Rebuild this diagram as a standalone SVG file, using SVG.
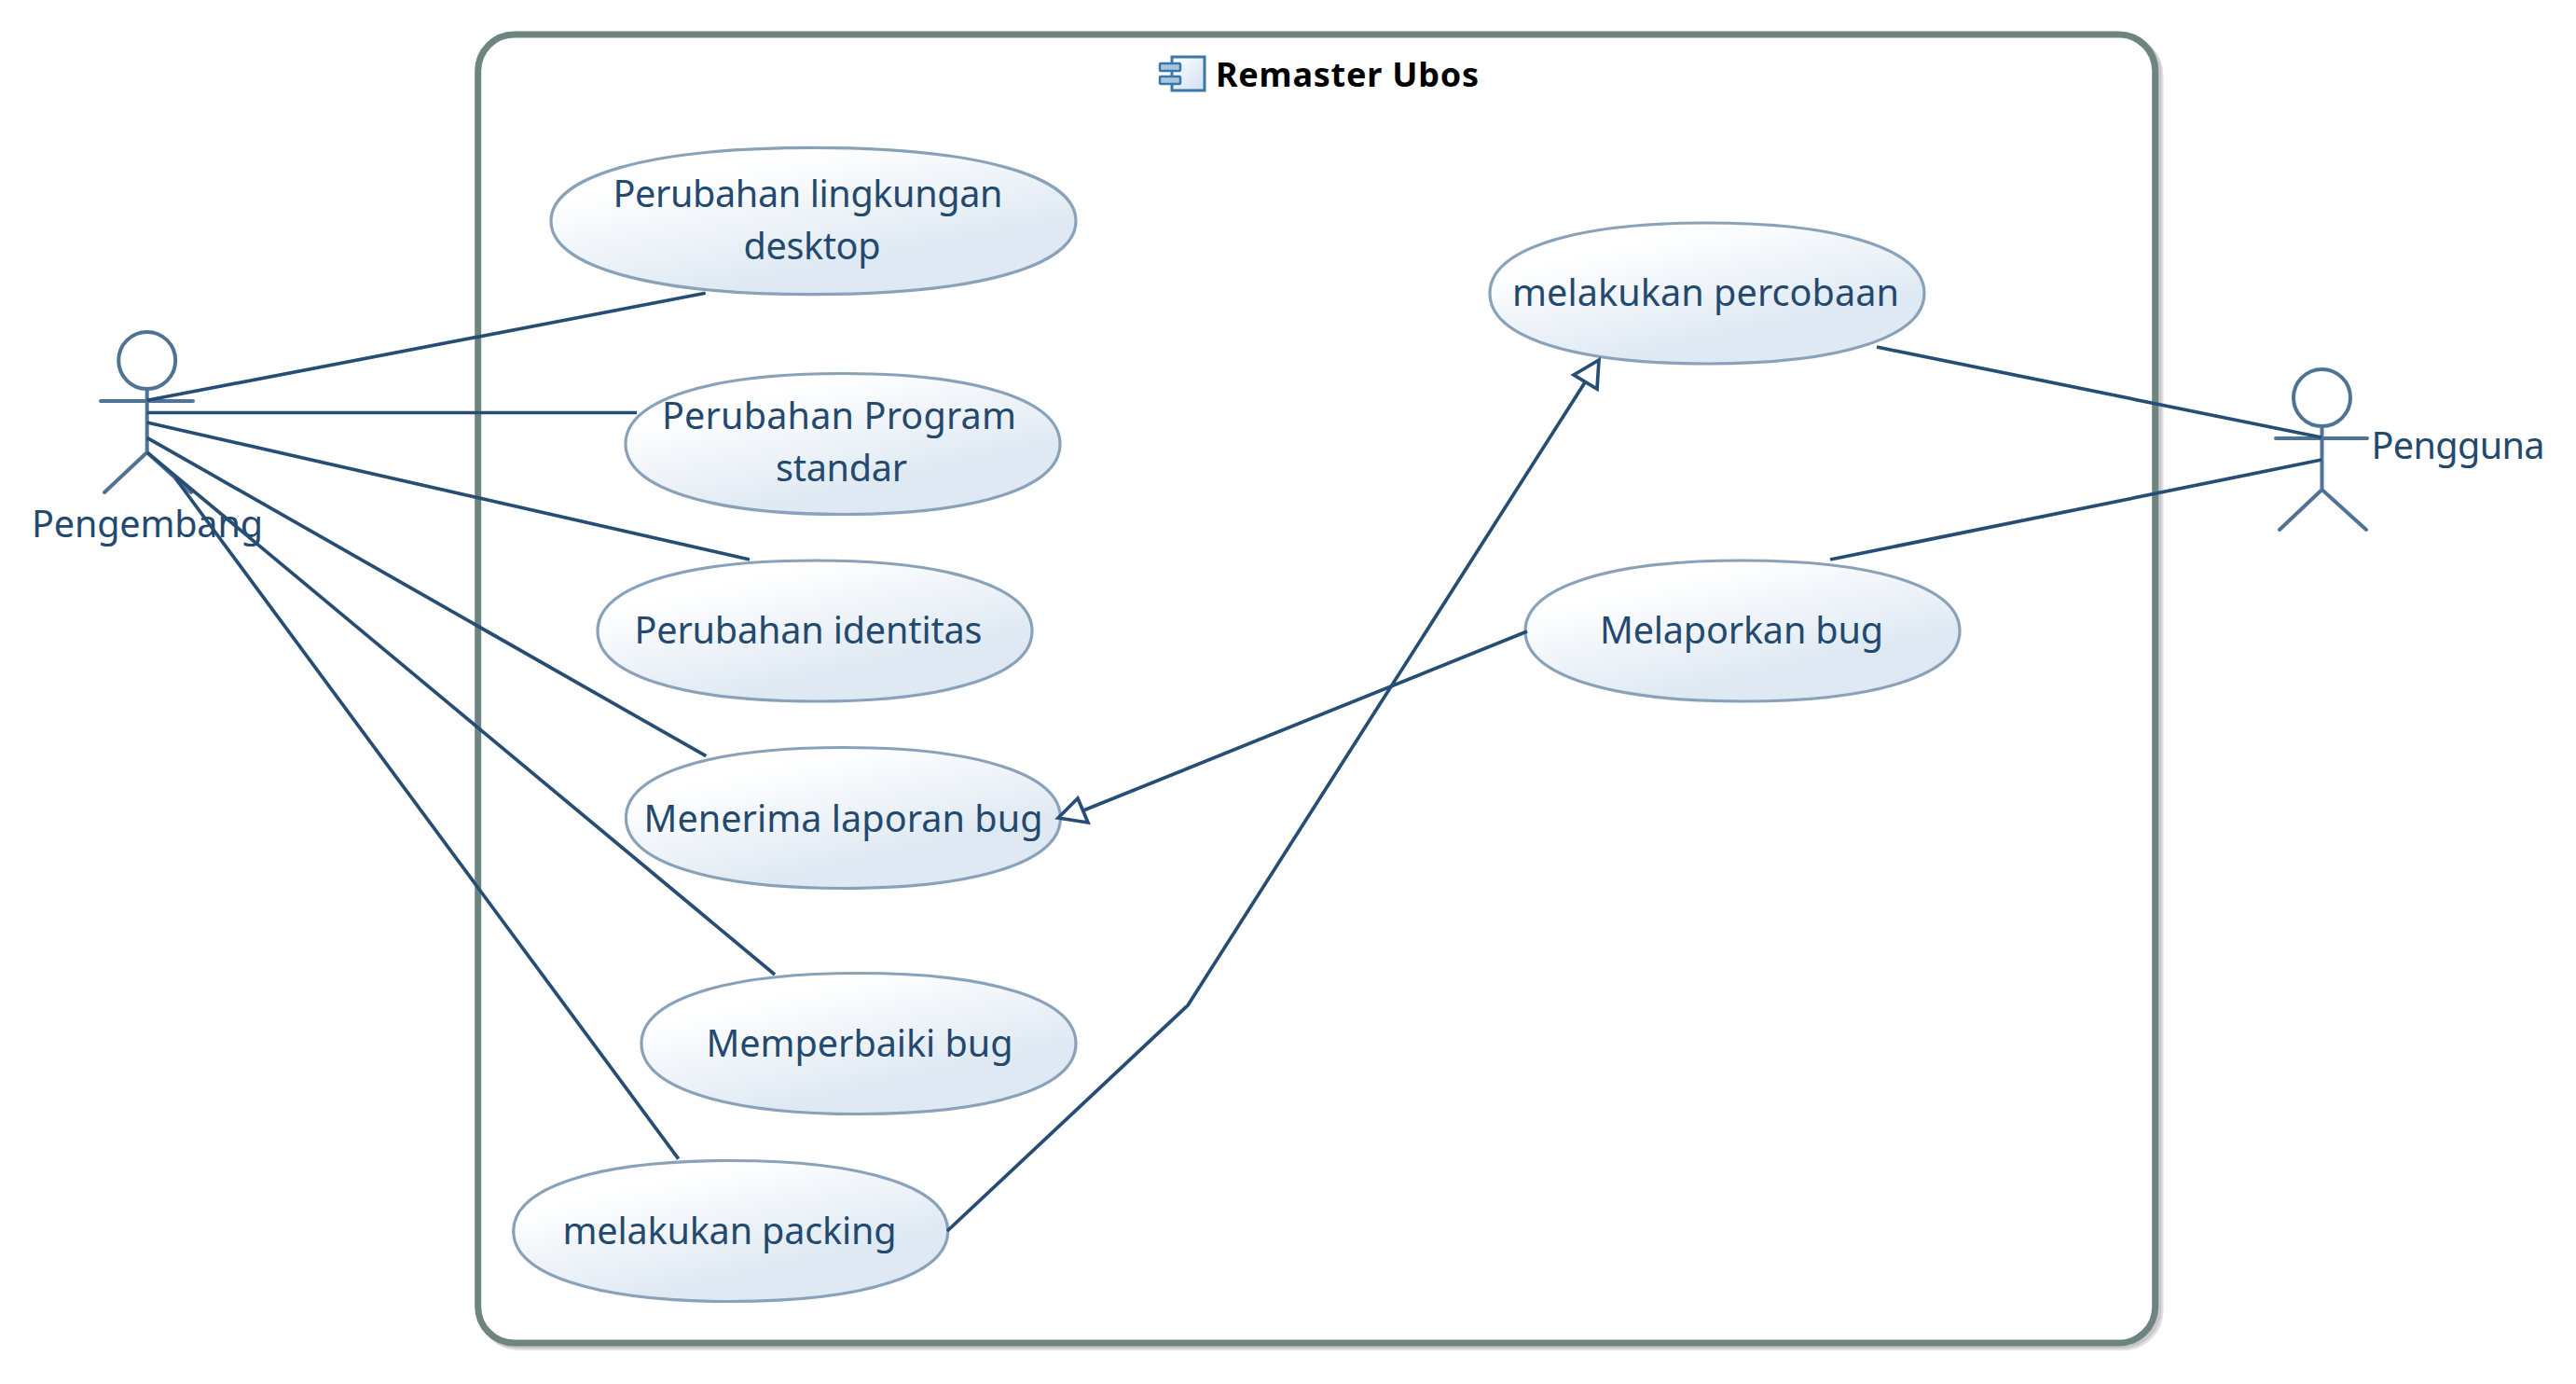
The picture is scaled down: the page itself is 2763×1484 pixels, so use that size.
<svg xmlns="http://www.w3.org/2000/svg" width="2763" height="1484" viewBox="0 0 2763 1484">
<style>
text{font-family:"Noto Sans","Open Sans",sans-serif;font-size:39.6px;fill:#23496e;text-anchor:middle}
.title{font-size:36px;font-weight:700;fill:#000;text-anchor:start}
.uc{fill:url(#ucg);stroke:#89a2b9;stroke-width:3.2}
.actor{fill:none;stroke:#4f7394;stroke-width:4;stroke-linecap:round;stroke-linejoin:round}
.c{fill:none;stroke:#264d73;stroke-width:3.7}
.head{fill:#fff;stroke:#264d73;stroke-width:3.7}
</style>
<defs>
<linearGradient id="ucg" x1="0.1" y1="0" x2="0.8" y2="1"><stop offset="0.2" stop-color="#fff"/><stop offset="0.75" stop-color="#dfe9f3"/></linearGradient>
<linearGradient id="icg" x1="0" y1="0" x2="1" y2="1"><stop offset="0" stop-color="#fff"/><stop offset="1" stop-color="#cfe0f2"/></linearGradient>
<path id="std" class="uc" d="M-233 0C-233 -46.8 -144.5 -75.5 0 -75.5S233 -46.8 233 0S144.5 75.5 0 75.5S-233 46.8 -233 0Z"/>
<path id="big" class="uc" d="M-281.5 0C-281.5 -48.8 -174.5 -78.7 0 -78.7S281.5 -48.8 281.5 0S174.5 78.7 0 78.7S-281.5 48.8 -281.5 0Z"/>
</defs>
<rect width="2763" height="1484" fill="#fff"/>
<g id="frame">
<rect x="517" y="41.5" width="1800" height="1403" rx="39" fill="none" stroke="#e2e1e2" stroke-width="7"/>
<rect x="515" y="39.5" width="1800" height="1403" rx="39" fill="none" stroke="#c9c7c9" stroke-width="7"/>
<rect x="512.7" y="37" width="1799" height="1403" rx="39" fill="#fff" stroke="#6e8480" stroke-width="7"/>
<g id="frame-icon">
<rect x="1257" y="61" width="35" height="36" fill="url(#icg)" stroke="#3a78aa" stroke-width="3"/>
<rect x="1244" y="68" width="22" height="8" rx="1" fill="#a9c6e0" stroke="#3a78aa" stroke-width="2.5"/>
<rect x="1244" y="82" width="22" height="8" rx="1" fill="#a9c6e0" stroke="#3a78aa" stroke-width="2.5"/>
</g>
<text class="title" x="1304" y="93" textLength="282">Remaster Ubos</text>
</g>
<g id="uc1"><use href="#big" x="872.5" y="237"/><text x="866.5" y="221.5" textLength="418">Perubahan lingkungan</text><text x="871" y="277.5" textLength="147">desktop</text></g>
<g id="uc2"><use href="#std" x="904" y="476"/><text x="900" y="459.5" textLength="380">Perubahan Program</text><text x="902.5" y="516" textLength="141">standar</text></g>
<g id="uc3"><use href="#std" x="874" y="676.5"/><text x="867" y="690" textLength="373">Perubahan identitas</text></g>
<g id="uc4"><use href="#std" x="904.4" y="877"/><text x="904.5" y="892" textLength="428">Menerima laporan bug</text></g>
<g id="uc5"><use href="#std" x="921" y="1119"/><text x="922" y="1132.5" textLength="329">Memperbaiki bug</text></g>
<g id="uc6"><use href="#std" x="783.7" y="1320"/><text x="782.5" y="1333.5" textLength="358">melakukan packing</text></g>
<g id="uc7"><use href="#std" x="1831" y="314.5"/><text x="1829.5" y="327.5" textLength="415">melakukan percobaan</text></g>
<g id="uc8"><use href="#std" x="1869" y="676.5"/><text x="1868" y="690" textLength="304">Melaporkan bug</text></g>
<g id="actor-pengembang">
<circle class="actor" cx="157.7" cy="386.5" r="30.5"/>
<path class="actor" d="M157.7 417V485M108 430H207M112 528L157.7 485L205 528"/>
<text x="158" y="576" textLength="248">Pengembang</text>
</g>
<g id="actor-pengguna">
<circle class="actor" cx="2490.5" cy="426.5" r="30.5"/>
<path class="actor" d="M2490.5 457V525M2441 470H2539M2445 568L2490.5 525L2538 568"/>
<text x="2636.5" y="492" textLength="186">Pengguna</text>
</g>
<g id="connectors">
<path class="c" d="M157.7 429.3L756.7 314.3"/>
<path class="c" d="M157.7 442.5L683 442.5"/>
<path class="c" d="M157.7 453L804 600"/>
<path class="c" d="M157.7 469.3L757.3 810.7"/>
<path class="c" d="M157.7 485L831 1045"/>
<path class="c" d="M188.3 513L727.7 1242.7"/>
<path class="c" d="M2013 372L2490 469"/>
<path class="c" d="M1963 600L2490 493"/>
<path class="c" d="M1638 677L1162 869"/>
<path class="head" d="M1135 877L1156 856L1167 882Z"/>
<path class="c" d="M1016 1320L1274 1078L1700 410"/>
<path class="head" d="M1715 386L1688 402L1713 417Z"/>
</g>
</svg>
